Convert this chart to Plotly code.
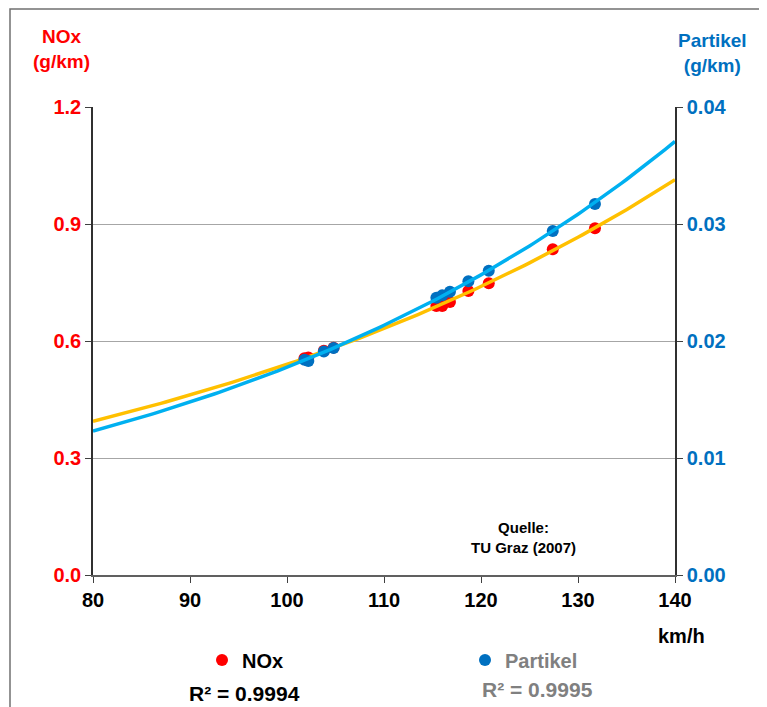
import numpy as np
import plotly.graph_objects as go

speed = [101.8, 102.2, 103.8, 104.8, 115.4, 116.0, 116.8, 118.7, 120.8, 127.4, 131.75]
nox = [0.556, 0.558, 0.575, 0.583, 0.690, 0.690, 0.700, 0.728, 0.748, 0.835, 0.889]
partikel = [0.0184, 0.0183, 0.0191, 0.0194, 0.0237, 0.0239, 0.0242, 0.0251, 0.0260, 0.0294, 0.0317]
x_ticks = [80, 90, 100, 110, 120, 130, 140]
y_ticks = [0.0, 0.3, 0.6, 0.9, 1.2]
y2_ticks = [0.0, 0.01, 0.02, 0.03, 0.04]
r2_nox = "R² = 0.9994"
r2_part = "R² = 0.9995"

FONT = "Liberation Sans, Arial, sans-serif"
RED = "#FF0000"
BLUE_PT = "#0070C0"
BLUE_LN = "#00B0F0"
YELLOW = "#FFC000"
GRAY_TXT = "#808080"

# exponential trendlines (as in the spreadsheet), fitted from the data
xs = np.linspace(80, 140, 121)
b1, a1 = np.polyfit(speed, np.log(nox), 1)
b2, a2 = np.polyfit(speed, np.log(partikel), 1)
fit_nox = np.exp(a1 + b1 * xs)
fit_part = np.exp(a2 + b2 * xs)

fig = go.Figure()
fig.add_trace(go.Scatter(x=speed, y=nox, mode="markers", name="<b>NOx</b>",
                         marker=dict(color=RED, size=12), yaxis="y", legend="legend"))
fig.add_trace(go.Scatter(x=xs, y=fit_nox, mode="lines", showlegend=False,
                         line=dict(color=YELLOW, width=3.5), yaxis="y"))
fig.add_trace(go.Scatter(x=speed, y=partikel, mode="markers",
                         name="<b>Partikel</b>",
                         marker=dict(color=BLUE_PT, size=12), yaxis="y2", legend="legend2"))
fig.add_trace(go.Scatter(x=xs, y=fit_part, mode="lines", showlegend=False,
                         line=dict(color=BLUE_LN, width=3.5), yaxis="y2"))

# screen-space plot box (page body adds an 8px offset)
OFF = 8
SL, SR, ST, SB = 93, 675, 107, 575
W, H = 767 - OFF, 707 - OFF
L, T = SL - OFF, ST - OFF
R = W - (SR - OFF)
B = H - (SB - OFF)
pw, ph = SR - SL, SB - ST

def px(x):
    return (x - SL) / pw

def py(y):
    return (SB - y) / ph

fig.update_layout(
    width=W, height=H,
    margin=dict(l=L, r=R, t=T, b=B, autoexpand=False),
    paper_bgcolor="white", plot_bgcolor="white",
    font=dict(family=FONT, size=20, color="black"),
    xaxis=dict(range=[80, 140], tickvals=x_ticks, ticktext=[f"<b>{v}</b>" for v in x_ticks],
               showgrid=False, zeroline=False, showline=True, linecolor="#606060", linewidth=1.5,
               ticks="outside", ticklen=6, tickcolor="#404040", tickfont=dict(size=20, color="black")),
    yaxis=dict(range=[0, 1.2], tickvals=y_ticks, ticktext=[f"<b>{v:.1f}</b>" for v in y_ticks],
               showgrid=True, gridcolor="#A6A6A6", gridwidth=1, zeroline=False,
               showline=True, linecolor="#303030", linewidth=1.5,
               ticks="outside", ticklen=6, tickcolor="#404040", tickfont=dict(size=20, color=RED)),
    yaxis2=dict(range=[0, 0.04], tickvals=y2_ticks, ticktext=[f"<b>{v:.2f}</b>" for v in y2_ticks],
                overlaying="y", side="right", showgrid=False, zeroline=False,
                showline=True, linecolor="#303030", linewidth=1.5,
                ticks="outside", ticklen=6, tickcolor="#404040", tickfont=dict(size=20, color=BLUE_PT)),
    legend=dict(x=px(202), y=py(660), xanchor="left", yanchor="middle",
                font=dict(size=20, color="black"), bgcolor="rgba(0,0,0,0)", itemclick=False),
    legend2=dict(x=px(465), y=py(660), xanchor="left", yanchor="middle",
                 font=dict(size=20, color=GRAY_TXT), bgcolor="rgba(0,0,0,0)", itemclick=False),
    showlegend=True,
)

fig.add_shape(type="rect", xref="paper", yref="paper",
              x0=px(10), x1=px(800), y0=py(9), y1=py(740),
              line=dict(color="#707070", width=1.5), layer="below")

ann = [
    dict(text="<b>NOx<br>(g/km)</b>", x=px(61), y=py(49), color=RED, size=19),
    dict(text="<b>Partikel<br>(g/km)</b>", x=px(712), y=py(53), color=BLUE_PT, size=19),
    dict(text="<b>Quelle:<br>TU Graz (2007)</b>", x=px(523), y=py(537), color="black", size=15),
    dict(text="<b>km/h</b>", x=px(681), y=py(636), color="black", size=20),
    dict(text=f"<b>{r2_nox}</b>", x=px(244), y=py(693), color="black", size=21),
    dict(text=f"<b>{r2_part}</b>", x=px(537), y=py(689), color=GRAY_TXT, size=21),
]
for a in ann:
    fig.add_annotation(text=a["text"], x=a["x"], y=a["y"], xref="paper", yref="paper",
                       showarrow=False, xanchor="center", yanchor="middle",
                       font=dict(family=FONT, size=a["size"], color=a["color"]))

fig.write_html("out.html")
